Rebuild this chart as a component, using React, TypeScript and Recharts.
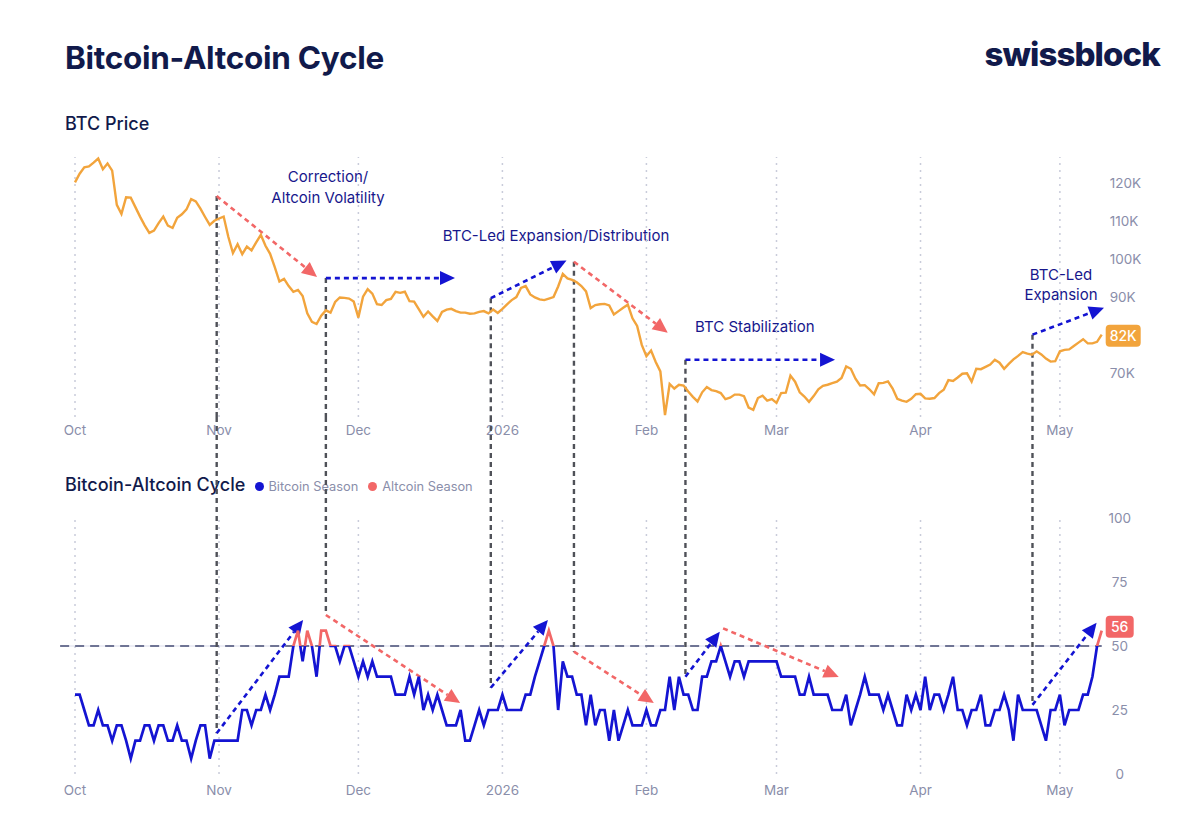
import React from 'react';
import {
  ComposedChart,
  Line,
  XAxis,
  YAxis,
  ReferenceLine,
  ReferenceDot,
} from 'recharts';

// x axis: day index counted from Oct 1 (2025)
const monthTicks = [0, 31, 61, 92, 123, 151, 182, 212];
const monthLabels = ['Oct', 'Nov', 'Dec', '2026', 'Feb', 'Mar', 'Apr', 'May'];
const priceTicks = [70, 90, 100, 110, 120];
const cycleTicks = [0, 25, 50, 75, 100];

// BTC daily price, thousands USD
const btcPrice = [
  120.3, 122.6, 124.3, 124.5, 125.5, 126.6, 123.8, 125.3, 123.4, 114.4,
  112.0, 116.4, 116.3, 113.8, 111.3, 109.0, 107.0, 107.6, 109.6, 111.3,
  108.9, 108.3, 111.0, 111.9, 113.2, 115.9, 115.3, 113.4, 111.2, 109.1,
  110.2, 110.8, 111.3, 106.0, 101.7, 104.0, 101.4, 103.4, 102.4, 104.5,
  106.5, 103.6, 101.5, 98.0, 94.2, 94.9, 93.0, 91.5, 92.0, 90.4,
  85.8, 83.6, 83.0, 85.2, 86.6, 86.0, 88.8, 90.0, 89.9, 89.7,
  88.9, 84.7, 90.2, 92.2, 91.0, 88.2, 88.0, 89.3, 89.6, 91.5,
  91.2, 91.5, 89.0, 88.9, 86.9, 84.9, 86.3, 85.0, 83.8, 86.2,
  86.8, 87.0, 86.4, 86.0, 86.0, 85.7, 85.8, 86.2, 86.4, 85.8,
  86.8, 85.9, 87.0, 88.2, 89.3, 90.1, 92.5, 93.0, 90.8, 90.0,
  89.5, 89.3, 89.7, 90.1, 92.9, 96.2, 95.0, 94.6, 94.0, 93.0,
  91.6, 87.2, 88.0, 88.2, 88.3, 87.9, 85.5, 86.4, 87.3, 88.1,
  84.5, 82.5, 77.5, 74.5, 76.0, 73.0, 70.5, 59.0, 67.2, 66.0,
  67.0, 66.8, 65.2, 63.8, 62.6, 65.0, 66.4, 65.6, 65.3, 64.8,
  63.2, 63.6, 64.4, 64.4, 64.0, 61.0, 60.4, 63.5, 64.1, 62.8,
  63.2, 62.2, 64.8, 64.9, 69.4, 67.8, 65.0, 63.9, 62.5, 64.0,
  65.8, 66.7, 67.0, 67.4, 67.8, 68.8, 71.8, 71.2, 68.6, 66.8,
  66.9, 65.8, 64.5, 67.4, 67.5, 67.9, 66.0, 63.3, 62.8, 62.5,
  63.3, 64.5, 64.6, 63.4, 63.3, 63.5, 64.8, 65.7, 68.2, 68.0,
  68.9, 69.9, 70.0, 67.8, 71.2, 71.1, 71.7, 72.3, 73.6, 72.8,
  71.2, 72.5, 73.7, 74.6, 75.6, 75.2, 74.9, 75.8, 75.0, 73.9,
  73.1, 73.2, 75.8, 76.2, 76.3, 77.2, 78.1, 79.0, 77.9, 77.9,
  78.3, 80.2,
];

// Bitcoin-Altcoin cycle score (0-100), above 50 = altcoin season
const cycleScore = [
  31, 31, 25, 19, 19, 25, 19, 19, 13, 19,
  19, 13, 6, 13, 13, 19, 19, 13, 19, 19,
  13, 13, 19, 13, 13, 6, 13, 19, 19, 6,
  13, 13, 13, 13, 13, 13, 25, 25, 19, 25,
  25, 31, 25, 31, 38, 38, 38, 50, 56, 44,
  56, 50, 38, 56, 56, 50, 50, 44, 50, 50,
  44, 38, 44, 38, 44, 38, 38, 38, 38, 31,
  31, 31, 38, 31, 38, 25, 31, 25, 31, 25,
  19, 19, 19, 25, 13, 13, 19, 25, 19, 25,
  25, 25, 31, 25, 25, 25, 25, 31, 31, 38,
  44, 50, 56, 50, 25, 44, 38, 38, 31, 31,
  19, 31, 19, 25, 25, 13, 25, 13, 19, 25,
  19, 19, 19, 25, 19, 19, 25, 25, 38, 25,
  38, 31, 31, 25, 25, 38, 38, 44, 44, 50,
  44, 38, 44, 44, 38, 44, 44, 44, 44, 44,
  44, 44, 38, 38, 38, 38, 31, 31, 38, 31,
  31, 31, 31, 25, 25, 25, 31, 19, 25, 31,
  38, 31, 31, 31, 25, 31, 25, 19, 19, 31,
  25, 31, 25, 38, 25, 31, 31, 25, 31, 38,
  25, 25, 19, 25, 25, 31, 19, 19, 25, 25,
  31, 25, 13, 31, 25, 25, 25, 25, 19, 13,
  25, 25, 31, 19, 25, 25, 25, 31, 31, 38,
  50, 56,
];

const latestPriceLabel = '82K';
const seasonThreshold = 50;

// phase boundaries: day, price where the top arrow starts, score where the bottom arrow starts
const phaseStarts = [
  { day: 30.5, price: 116.7, score: 15.9 },
  { day: 54, price: 95.1, score: 62.1 },
  { day: 89.5, price: 89.8, score: 33.7 },
  { day: 107.4, price: 99.4, score: 47.8 },
  { day: 131.4, price: 73.6, score: 38 },
  { day: 206.1, price: 80.2, score: 27 },
];

const NAVY = '#111a4b';
const INK = '#17178c';
const AXIS = '#8a8eaa';
const ORANGE = '#f2a43c';
const BLUE = '#1414d2';
const RED = '#f26767';
const GRID = '#c9ccda';
const CONNECT = '#4f5158';

const priceArrows = [
  { from: [30.5, 116.7], to: [52.1, 95.4], color: RED },
  { from: [54, 95.1], to: [81.8, 95.1], color: BLUE },
  { from: [89.5, 89.8], to: [105.8, 99.7], color: BLUE },
  { from: [107.4, 99.4], to: [127.6, 80.7], color: RED },
  { from: [131.4, 73.6], to: [163.6, 73.6], color: BLUE },
  { from: [206.1, 80.2], to: [221.5, 87.3], color: BLUE },
];

const cycleArrows = [
  { from: [30.5, 15.9], to: [49.1, 60.2], color: BLUE },
  { from: [54, 62.1], to: [82.9, 27.7], color: RED },
  { from: [89.5, 33.7], to: [101.8, 60.2], color: BLUE },
  { from: [107.4, 47.8], to: [124.6, 27.7], color: RED },
  { from: [131.4, 38], to: [138.8, 55.6], color: BLUE },
  { from: [139.5, 56.9], to: [164.4, 37.9], color: RED },
  { from: [206.1, 27], to: [219.9, 59.1], color: BLUE },
];

// score value that reaches up to the bottom of the price panel
const CONNECT_TOP = 139.5;

const rows = btcPrice.map((price, i) => ({ day: i, price, score: cycleScore[i] }));
const lastDay = rows.length - 1;

const monthName = (d: number) => monthLabels[monthTicks.indexOf(d)] ?? '';

const arrowShape = (color: string) => (props: any) => {
  const { x1, y1, x2, y2 } = props;
  const len = Math.hypot(x2 - x1, y2 - y1) || 1;
  const ux = (x2 - x1) / len;
  const uy = (y2 - y1) / len;
  const head = 15;
  const half = 7;
  const bx = x2 - ux * head;
  const by = y2 - uy * head;
  const pts = `${x2},${y2} ${bx - uy * half},${by + ux * half} ${bx + uy * half},${by - ux * half}`;
  return (
    <g>
      <line x1={x1} y1={y1} x2={bx} y2={by} stroke={color} strokeWidth={2.6} strokeDasharray="5 4" />
      <polygon points={pts} fill={color} />
    </g>
  );
};

const badge = (text: string, fill: string, w: number, shift: number) => (props: any) => {
  const { cx, cy } = props;
  return (
    <g>
      <rect x={cx + 4} y={cy + shift - 11} width={w} height={22} rx={4} fill={fill} />
      <text x={cx + 4 + w / 2} y={cy + shift} dy="0.36em" textAnchor="middle" fill="#fff" fontSize={14} fontWeight={500}>
        {text}
      </text>
    </g>
  );
};

const cycleTick = (props: any) => {
  const { x, y, payload } = props;
  return (
    <text x={x + 10} y={y} dy="0.36em" textAnchor="middle" fill={AXIS} fontSize={13.5}>
      {payload.value}
    </text>
  );
};

const Txt: React.FC<{ style: React.CSSProperties; children: React.ReactNode }> = ({ style, children }) => (
  <div style={{ position: 'absolute', whiteSpace: 'nowrap', lineHeight: 1, ...style }}>{children}</div>
);

const gradOffset = (() => {
  const max = Math.max(...cycleScore);
  const min = Math.min(...cycleScore);
  return (max - seasonThreshold) / (max - min);
})();

const monthGrid = (prefix: string) =>
  monthTicks.map((t) => (
    <ReferenceLine key={`${prefix}${t}`} x={t} stroke={GRID} strokeWidth={1.5} strokeDasharray="2 5" />
  ));

export default function App() {
  const chartBox: React.CSSProperties = { position: 'absolute', left: 0, top: 0 };
  return (
    <div
      style={{
        position: 'absolute',
        left: 0,
        top: 0,
        width: 1200,
        height: 828,
        background: '#fff',
        fontFamily: 'Inter, "Noto Sans", sans-serif',
        overflow: 'hidden',
      }}
    >
      <Txt style={{ left: 65, top: 42, fontSize: 31.5, fontWeight: 700, color: NAVY, letterSpacing: -0.3 }}>
        Bitcoin-Altcoin Cycle
      </Txt>
      <Txt style={{ right: 40, top: 38, fontSize: 33, fontWeight: 800, color: NAVY, letterSpacing: -0.9 }}>
        swissblock
      </Txt>
      <Txt style={{ left: 65, top: 115, fontSize: 18, fontWeight: 500, color: NAVY }}>BTC Price</Txt>
      <Txt style={{ left: 65, top: 476, fontSize: 18, fontWeight: 500, color: NAVY }}>Bitcoin-Altcoin Cycle</Txt>
      <div style={{ position: 'absolute', left: 254.5, top: 479, display: 'flex', alignItems: 'center', fontSize: 12.8, color: AXIS }}>
        <span style={{ width: 9, height: 9, borderRadius: 5, background: BLUE, marginRight: 5 }} />
        <span style={{ marginRight: 10 }}>Bitcoin Season</span>
        <span style={{ width: 9, height: 9, borderRadius: 5, background: RED, marginRight: 5 }} />
        <span>Altcoin Season</span>
      </div>

      <Txt style={{ left: 328, top: 166, transform: 'translateX(-50%)', fontSize: 15, color: INK, textAlign: 'center', lineHeight: '21px' }}>
        Correction/
        <br />
        Altcoin Volatility
      </Txt>
      <Txt style={{ left: 556, top: 228, transform: 'translateX(-50%)', fontSize: 15, color: INK }}>
        BTC-Led Expansion/Distribution
      </Txt>
      <Txt style={{ left: 695, top: 319, fontSize: 15, color: INK }}>BTC Stabilization</Txt>
      <Txt style={{ left: 1061, top: 265, transform: 'translateX(-50%)', fontSize: 15, color: INK, textAlign: 'center', lineHeight: '20px' }}>
        BTC-Led
        <br />
        Expansion
      </Txt>

      <div style={chartBox}>
        <ComposedChart width={1200} height={450} data={rows} margin={{ top: 157, right: 38.3, bottom: 3, left: 75 }} style={{ overflow: 'visible' }}>
          <XAxis
            dataKey="day"
            type="number"
            domain={[0, lastDay]}
            ticks={monthTicks}
            interval={0}
            tickFormatter={monthName}
            axisLine={false}
            tickLine={false}
            height={30}
            tick={{ fill: AXIS, fontSize: 13.5 }}
          />
          <YAxis
            orientation="right"
            domain={[58.5, 127]}
            ticks={priceTicks}
            tickFormatter={(v: number) => `${v}K`}
            axisLine={false}
            tickLine={false}
            width={60}
            tick={{ fill: AXIS, fontSize: 13.5 }}
          />
          {monthGrid('pg')}
          {phaseStarts.map((p, i) => (
            <ReferenceLine
              key={`pc${i}`}
              segment={[{ x: p.day, y: p.price }, { x: p.day, y: 58.5 }]}
              stroke={CONNECT}
              strokeWidth={2.4}
              strokeDasharray="5 4"
              ifOverflow="visible"
            />
          ))}
          {priceArrows.map((a, i) => (
            <ReferenceLine
              key={`pa${i}`}
              segment={[{ x: a.from[0], y: a.from[1] }, { x: a.to[0], y: a.to[1] }]}
              ifOverflow="visible"
              shape={arrowShape(a.color)}
            />
          ))}
          <Line type="linear" dataKey="price" stroke={ORANGE} strokeWidth={2.4} dot={false} isAnimationActive={false} />
          <ReferenceDot
            x={lastDay}
            y={btcPrice[lastDay]}
            r={0}
            ifOverflow="visible"
            shape={badge(latestPriceLabel, ORANGE, 35, 1)}
          />
        </ComposedChart>
      </div>

      <div style={chartBox}>
        <ComposedChart width={1200} height={828} data={rows} margin={{ top: 518, right: 38.3, bottom: 24, left: 75 }} style={{ overflow: 'visible' }}>
          <defs>
            <linearGradient id="seasonStroke" x1="0" y1="0" x2="0" y2="1">
              <stop offset={0} stopColor={RED} />
              <stop offset={gradOffset} stopColor={RED} />
              <stop offset={gradOffset} stopColor={BLUE} />
              <stop offset={1} stopColor={BLUE} />
            </linearGradient>
          </defs>
          <XAxis
            dataKey="day"
            type="number"
            domain={[0, lastDay]}
            ticks={monthTicks}
            interval={0}
            tickFormatter={monthName}
            axisLine={false}
            tickLine={false}
            tickMargin={5}
            height={30}
            tick={{ fill: AXIS, fontSize: 13.5 }}
          />
          <YAxis
            orientation="right"
            domain={[0, 100]}
            ticks={cycleTicks}
            axisLine={false}
            tickLine={false}
            width={60}
            tick={cycleTick}
          />
          {monthGrid('cg')}
          <ReferenceLine
            segment={[{ x: -3.2, y: seasonThreshold }, { x: lastDay, y: seasonThreshold }]}
            stroke="#d9dbeb"
            strokeWidth={1}
            ifOverflow="visible"
          />
          <ReferenceLine
            segment={[{ x: -3.2, y: seasonThreshold }, { x: lastDay, y: seasonThreshold }]}
            stroke="#6f7494"
            strokeWidth={2}
            strokeDasharray="9 6"
            ifOverflow="visible"
          />
          {phaseStarts.map((p, i) => (
            <ReferenceLine
              key={`cc${i}`}
              segment={[{ x: p.day, y: CONNECT_TOP }, { x: p.day, y: p.score }]}
              stroke={CONNECT}
              strokeWidth={2.4}
              strokeDasharray="5 4"
              ifOverflow="visible"
            />
          ))}
          {cycleArrows.map((a, i) => (
            <ReferenceLine
              key={`ca${i}`}
              segment={[{ x: a.from[0], y: a.from[1] }, { x: a.to[0], y: a.to[1] }]}
              ifOverflow="visible"
              shape={arrowShape(a.color)}
            />
          ))}
          <Line
            type="linear"
            dataKey="score"
            stroke="url(#seasonStroke)"
            strokeWidth={2.7}
            dot={false}
            isAnimationActive={false}
          />
          <ReferenceDot
            x={lastDay}
            y={cycleScore[lastDay]}
            r={0}
            ifOverflow="visible"
            shape={badge(String(cycleScore[lastDay]), RED, 28, -4)}
          />
        </ComposedChart>
      </div>
    </div>
  );
}
